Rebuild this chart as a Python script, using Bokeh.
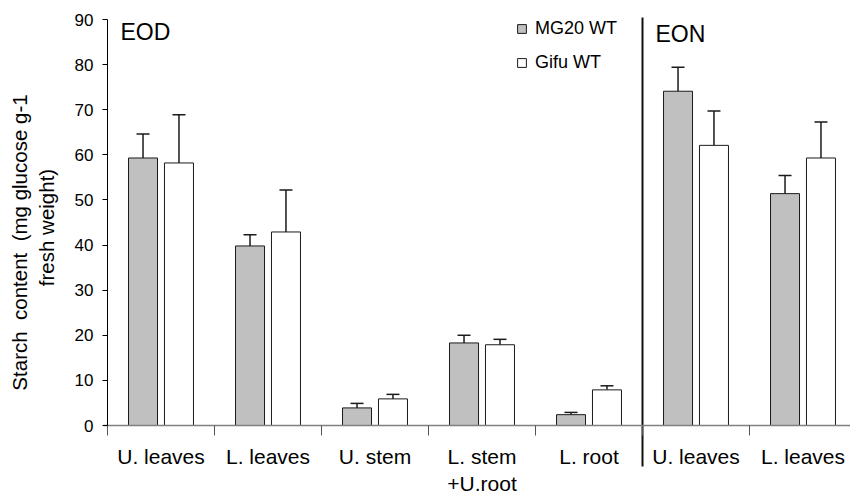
import numpy as np
from bokeh.plotting import figure
from bokeh.models import (ColumnDataSource, FixedTicker, Whisker, TeeHead, Label,
                          Legend, LegendItem, Range1d, LinearAxis)
from bokeh.embed import file_html
from bokeh.resources import INLINE

# Tissue categories (EOD: first five, EON: last two)
tissues = ["U. leaves", "L. leaves", "U. stem", "L. stem\n+U.root", "L. root",
           "U. leaves", "L. leaves"]
# Starch content, mg glucose g-1 fresh weight
mg20 = [59.3, 39.8, 3.9, 18.3, 2.4, 74.1, 51.4]
mg20_err = [5.3, 2.5, 1.0, 1.7, 0.5, 5.3, 4.0]
gifu = [58.2, 42.9, 5.9, 17.9, 7.9, 62.1, 59.3]
gifu_err = [10.7, 9.3, 1.0, 1.2, 0.9, 7.6, 8.0]
series_names = ["MG20 WT", "Gifu WT"]
period_names = ["EOD", "EON"]
period_start = [0, 5]          # group index where each period begins
y_ticks = [0, 10, 20, 30, 40, 50, 60, 70, 80, 90]
# y title; non-breaking spaces keep the wide word gaps in SVG text
y_title = ["Starch\u00a0 content\u00a0 (mg glucose g-1", "fresh weight)"]

FONT = "Liberation Sans"
W, H = 850, 497
X0_PX, Y0_PX, Y90_PX = 107, 425, 19      # screen position of the data origin / top tick
PX_PER_GROUP = 107
PX_PER_UNIT = (Y0_PX - Y90_PX) / y_ticks[-1]

# whole canvas is the plotting frame; axes are pinned at the data origin
x_lo, x_hi = -X0_PX / PX_PER_GROUP, (W - X0_PX) / PX_PER_GROUP
y_lo, y_hi = -(H - Y0_PX) / PX_PER_UNIT, Y0_PX / PX_PER_UNIT
px_x = lambda sx: (sx - X0_PX) / PX_PER_GROUP
px_y = lambda sy: (Y0_PX - sy) / PX_PER_UNIT

centers = np.arange(len(tissues)) + 0.5
off, bw = 0.168, 0.271

src_a = ColumnDataSource(dict(x=centers - off, top=mg20,
                              upper=np.array(mg20) + np.array(mg20_err)))
src_b = ColumnDataSource(dict(x=centers + off, top=gifu,
                              upper=np.array(gifu) + np.array(gifu_err)))

p = figure(width=W, height=H, output_backend="svg", toolbar_location=None,
           x_range=Range1d(x_lo, x_hi), y_range=Range1d(y_lo, y_hi),
           x_axis_location=None, y_axis_location=None,
           min_border=0, min_border_left=0, min_border_right=0,
           min_border_top=0, min_border_bottom=0)
p.outline_line_color = None
p.grid.visible = False
p.background_fill_color = "white"

r_a = p.vbar(x="x", top="top", width=bw, source=src_a, fill_color="#c0c0c0",
             line_color="#1a1a1a", line_width=1)
r_b = p.vbar(x="x", top="top", width=bw, source=src_b, fill_color="white",
             line_color="#1a1a1a", line_width=1)

for src in (src_a, src_b):
    p.add_layout(Whisker(source=src, base="x", lower="top", upper="upper",
                         lower_head=None,
                         upper_head=TeeHead(size=13, line_width=1.5, line_color="#1a1a1a"),
                         line_width=1.5, line_color="#1a1a1a"))

# x axis at y = 0: labels at group centres, group boundaries as minor ticks
xa = LinearAxis(fixed_location=0, bounds=(px_x(X0_PX - 4), x_hi))
xa.ticker = FixedTicker(ticks=list(centers), minor_ticks=list(range(len(tissues) + 1)))
xa.major_label_overrides = {float(c): t for c, t in zip(centers, tissues)}
xa.major_tick_out = 0
xa.major_tick_in = 0
xa.minor_tick_out = 10
xa.minor_tick_in = 0
xa.minor_tick_line_color = "#555555"
xa.axis_line_color = "#808080"
xa.axis_line_width = 1.5
xa.major_label_text_font = FONT
xa.major_label_text_font_size = "21px"
xa.major_label_text_color = "black"
xa.major_label_standoff = 9
p.add_layout(xa, "below")

# y axis at x = 0
ya = LinearAxis(fixed_location=0, bounds=(y_ticks[0], y_ticks[-1]))
ya.ticker = FixedTicker(ticks=y_ticks, minor_ticks=[])
ya.major_tick_out = 5
ya.major_tick_in = 0
ya.minor_tick_out = 0
ya.axis_line_color = "black"
ya.major_tick_line_color = "black"
ya.major_label_text_font = FONT
ya.major_label_text_font_size = "17px"
ya.major_label_text_color = "black"
ya.major_label_standoff = 9
p.add_layout(ya, "left")

# y-axis title in two lines
for txt, sx, sy in zip(y_title, (19, 46), (242, 227)):
    p.add_layout(Label(x=px_x(sx), y=px_y(sy), text=txt,
                       angle=np.pi / 2, text_align="center", text_baseline="middle",
                       text_font=FONT, text_font_size="20.5px", text_color="black"))

# divider between the two sampling times, running down through the tick labels
p.segment(x0=[period_start[1]], y0=[px_y(17)], x1=[period_start[1]], y1=[px_y(466)],
          line_width=2, line_color="#111111")

for name, g, ty in zip(period_names, period_start, (31, 33)):
    p.add_layout(Label(x=g + px_x(120), y=px_y(ty), text=name, text_font=FONT,
                       text_font_size="23px", text_baseline="alphabetic",
                       text_color="black"))

legend = Legend(items=[LegendItem(label=series_names[0], renderers=[r_a]),
                       LegendItem(label=series_names[1], renderers=[r_b])],
                location=(516, H - 72.5),
                glyph_width=11, glyph_height=11, label_height=20,
                label_text_font=FONT, label_text_font_size="18px",
                label_text_color="black",
                label_standoff=8, spacing=13, padding=0, margin=0,
                border_line_color=None, background_fill_alpha=0)
p.add_layout(legend)

open("out.html", "w").write(file_html(p, INLINE))
